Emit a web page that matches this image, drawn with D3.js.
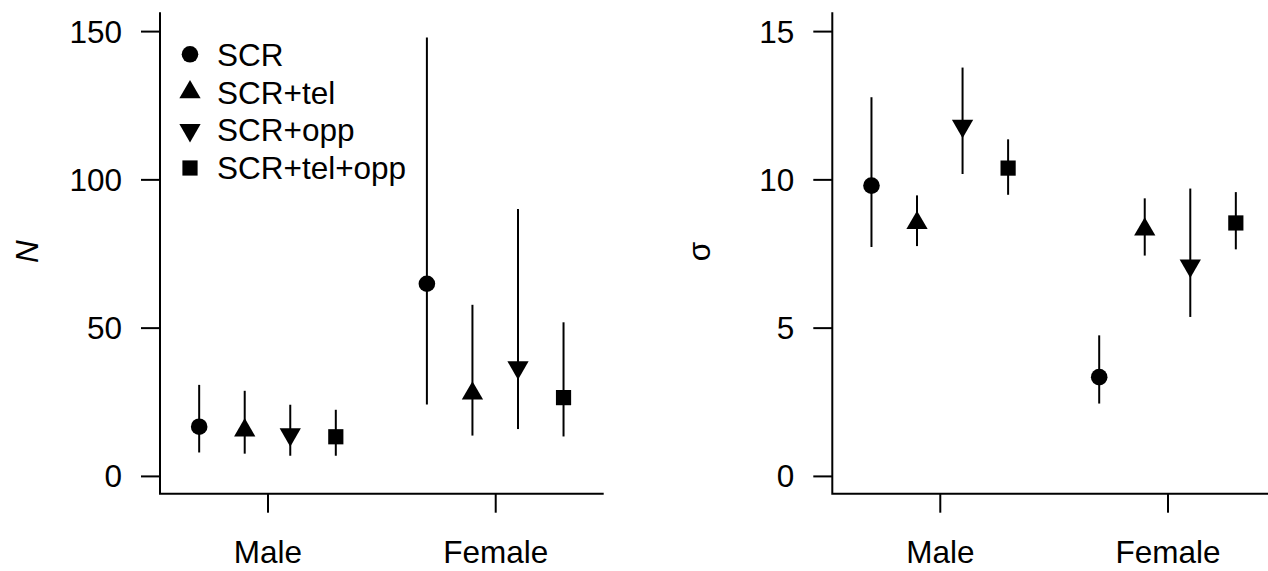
<!DOCTYPE html>
<html>
<head>
<meta charset="utf-8">
<script src="https://cdn.jsdelivr.net/npm/d3@7/dist/d3.min.js"></script>
<style>
  html, body { margin: 0; padding: 0; background: #fff; }
  svg { display: block; }
  text { font-family: "Liberation Sans", Arial, Helvetica, sans-serif; fill: #000; }
</style>
</head>
<body>
<svg id="chart" width="1268" height="571"></svg>
<script>
// ---------------- data ----------------
const categories = ["Male", "Female"];
const models = ["SCR", "SCR+tel", "SCR+opp", "SCR+tel+opp"];

// Abundance N: estimate, lower, upper  (per model, [Male, Female])
const N_est   = { "SCR": [16.6, 64.8], "SCR+tel": [15.4, 27.8], "SCR+opp": [14.0, 36.6], "SCR+tel+opp": [13.2, 26.4] };
const N_lower = { "SCR": [7.9, 24.1],  "SCR+tel": [7.5, 13.6],  "SCR+opp": [6.8, 15.8],  "SCR+tel+opp": [6.8, 13.3] };
const N_upper = { "SCR": [30.7, 147.8],"SCR+tel": [28.7, 57.7], "SCR+opp": [24.0, 90.0], "SCR+tel+opp": [22.3, 51.8] };

// sigma: estimate, lower, upper
const S_est   = { "SCR": [9.79, 3.33], "SCR+tel": [8.53, 8.31], "SCR+opp": [11.80, 7.09], "SCR+tel+opp": [10.38, 8.53] };
const S_lower = { "SCR": [7.72, 2.44], "SCR+tel": [7.75, 7.43], "SCR+opp": [10.18, 5.36], "SCR+tel+opp": [9.48, 7.64] };
const S_upper = { "SCR": [12.77, 4.74],"SCR+tel": [9.46, 9.36], "SCR+opp": [13.77, 9.69], "SCR+tel+opp": [11.35, 9.57] };

const N_ticks = [0, 50, 100, 150];
const S_ticks = [0, 5, 10, 15];

// ---------------- drawing ----------------
const svg = d3.select("#chart");
svg.append("rect").attr("width", 1268).attr("height", 571).attr("fill", "#fff");

const FONT = 31.5;
const shapes = {
  "SCR":         { type: d3.symbolCircle,   size: Math.PI * 8.3 * 8.3, rot: 0 },
  "SCR+tel":     { type: d3.symbolTriangle, size: 196, rot: 0 },
  "SCR+opp":     { type: d3.symbolTriangle, size: 196, rot: 180 },
  "SCR+tel+opp": { type: d3.symbolSquare,   size: 15.2 * 15.2, rot: 0 }
};
const dodge = d3.scalePoint().domain(models).range([-0.3, 0.3]);

function panel(opts) {
  const { left, right, top, bottom, ydom, ticks, est, lower, upper, ylabel, italic, legend } = opts;
  const g = svg.append("g");
  const x = d3.scaleLinear().domain([0.528, 2.472]).range([left, right]);
  const y = d3.scaleLinear().domain(ydom).range([bottom, top]);

  // y axis ticks
  const ya = d3.axisLeft(y).tickValues(ticks).tickSize(19).tickPadding(19).tickFormat(d3.format("d"));
  const yg = g.append("g").attr("transform", `translate(${left},0)`).call(ya);
  yg.select(".domain").remove();
  yg.selectAll("line").attr("stroke", "#000").attr("stroke-width", 2);
  yg.selectAll("text").attr("font-size", FONT).attr("dy", "0.35em")
    .style("font-family", '"Liberation Sans", Arial, sans-serif');

  // x axis ticks
  const xa = d3.axisBottom(x).tickValues([1, 2]).tickSize(19).tickPadding(28)
    .tickFormat((d) => categories[d - 1]);
  const xg = g.append("g").attr("transform", `translate(0,${bottom})`).call(xa);
  xg.select(".domain").remove();
  xg.selectAll("line").attr("stroke", "#000").attr("stroke-width", 2);
  xg.selectAll("text").attr("font-size", FONT)
    .style("font-family", '"Liberation Sans", Arial, sans-serif');

  // L-shaped box
  g.append("path")
    .attr("d", `M${left},${top}V${bottom}H${right}`)
    .attr("fill", "none").attr("stroke", "#000").attr("stroke-width", 2)
    .attr("stroke-linecap", "square");

  // y label
  g.append("text")
    .attr("transform", `translate(${left - 122},${(top + bottom) / 2 - 2}) rotate(-90)`)
    .attr("text-anchor", "middle")
    .attr("font-size", FONT)
    .attr("font-style", italic ? "italic" : "normal")
    .text(ylabel);

  // data
  const rows = [];
  models.forEach((m) => {
    categories.forEach((c, i) => {
      rows.push({ m, xv: i + 1 + dodge(m), est: est[m][i], lo: lower[m][i], hi: upper[m][i] });
    });
  });

  g.selectAll("line.err").data(rows).enter().append("line")
    .attr("class", "err")
    .attr("x1", (d) => x(d.xv)).attr("x2", (d) => x(d.xv))
    .attr("y1", (d) => y(d.lo)).attr("y2", (d) => y(d.hi))
    .attr("stroke", "#000").attr("stroke-width", 2);

  g.selectAll("path.pt").data(rows).enter().append("path")
    .attr("class", "pt")
    .attr("d", (d) => d3.symbol().type(shapes[d.m].type).size(shapes[d.m].size)())
    .attr("transform", (d) => `translate(${x(d.xv)},${y(d.est)}) rotate(${shapes[d.m].rot})`)
    .attr("fill", "#000");

  if (legend) {
    const lg = g.append("g");
    const rowY = d3.scalePoint().domain(models).range([54.3, 168]);
    models.forEach((m) => {
      lg.append("path")
        .attr("d", d3.symbol().type(shapes[m].type).size(shapes[m].size)())
        .attr("transform", `translate(190,${rowY(m)}) rotate(${shapes[m].rot})`)
        .attr("fill", "#000");
      lg.append("text")
        .attr("x", 217).attr("y", rowY(m)).attr("dy", "0.36em")
        .attr("font-size", FONT)
        .text(m);
    });
  }
}

panel({ left: 160, right: 602.7, top: 13.3, bottom: 493.7, ydom: [-6, 156], ticks: N_ticks,
        est: N_est, lower: N_lower, upper: N_upper, ylabel: "N", italic: true, legend: true });
panel({ left: 832.3, right: 1275, top: 13.3, bottom: 493.7, ydom: [-0.6, 15.6], ticks: S_ticks,
        est: S_est, lower: S_lower, upper: S_upper, ylabel: "σ", italic: false, legend: false });
</script>
</body>
</html>
